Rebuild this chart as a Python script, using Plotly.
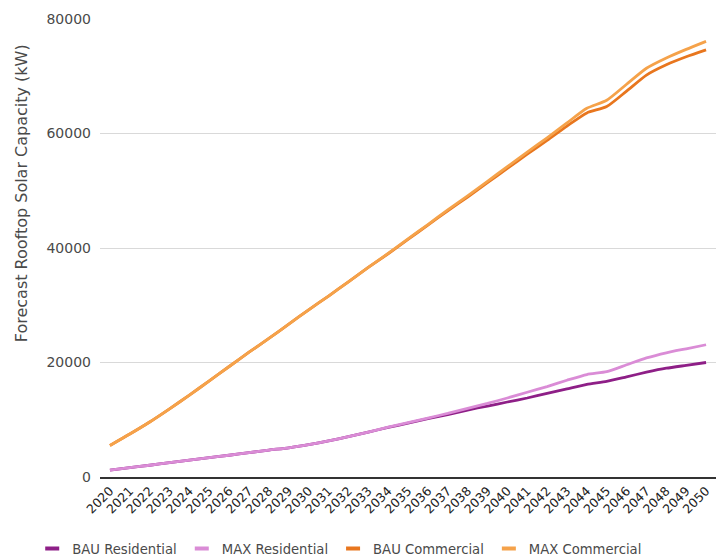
import plotly.graph_objects as go

years = [str(y) for y in range(2020, 2051)]

bau_residential = [1200, 1650, 2050, 2500, 2950, 3400, 3800, 4250, 4700, 5100,
                   5650, 6300, 7050, 7850, 8650, 9400, 10200, 10900, 11700, 12400,
                   13100, 13800, 14600, 15400, 16200, 16700, 17500, 18300, 19000, 19500,
                   20000]
max_residential = [1200, 1650, 2050, 2500, 2950, 3400, 3800, 4250, 4700, 5100,
                   5650, 6300, 7050, 7850, 8700, 9500, 10300, 11100, 12000, 12850,
                   13800, 14800, 15800, 16900, 17900, 18400, 19600, 20800, 21700, 22400,
                   23100]
bau_commercial = [5500, 7500, 9600, 11900, 14300, 16800, 19300, 21800, 24200, 26700,
                  29200, 31600, 34100, 36600, 39000, 41500, 44000, 46500, 48900, 51400,
                  53900, 56400, 58800, 61300, 63600, 64700, 67400, 70200, 72000, 73400,
                  74600]
max_commercial = [5500, 7500, 9600, 11900, 14300, 16800, 19300, 21800, 24200, 26700,
                  29200, 31600, 34100, 36600, 39050, 41600, 44100, 46650, 49100, 51650,
                  54200, 56750, 59250, 61850, 64400, 65800, 68600, 71400, 73200, 74700,
                  76100]

series_names = ["BAU Residential", "MAX Residential", "BAU Commercial", "MAX Commercial"]
series_values = [bau_residential, max_residential, bau_commercial, max_commercial]
colors = ["#8E1F87", "#DA8CD6", "#E8761E", "#F5A24A"]
y_ticks = [0, 20000, 40000, 60000, 80000]
y_title = "Forecast Rooftop Solar Capacity (kW)"

FONT = "DejaVu Sans"
TXT = "#4a4a4a"

fig = go.Figure()
for name, vals, col in zip(series_names, series_values, colors):
    fig.add_trace(go.Scatter(
        x=years, y=vals, mode="lines", name=name, legendgroup=name,
        showlegend=False, line=dict(color=col, width=2.8, shape="spline", smoothing=0.6),
    ))
for name, col in zip(series_names, colors):
    fig.add_trace(go.Scatter(
        x=[None], y=[None], mode="markers", name=name, legendgroup=name,
        marker=dict(symbol="line-ew", size=10, color=col, line=dict(color=col, width=4)),
    ))

fig.add_annotation(
    text=y_title, textangle=-90, xref="paper", yref="paper",
    x=-0.128, y=0.62, xanchor="center", yanchor="middle", showarrow=False,
    font=dict(size=16, color=TXT, family=FONT),
)

fig.update_layout(
    template="none",
    width=716, height=558,
    margin=dict(l=100, r=0, t=19, b=81, autoexpand=False),
    paper_bgcolor="white", plot_bgcolor="white",
    font=dict(family=FONT, color=TXT, size=13),
    showlegend=True,
    legend=dict(orientation="h", xref="container", x=0.045, xanchor="left",
                yref="paper", y=-0.157, yanchor="middle",
                font=dict(size=13.2, color=TXT),
                itemwidth=30, tracegroupgap=0, bgcolor="rgba(0,0,0,0)"),
    xaxis=dict(
        type="category", tickangle=-45, tickfont=dict(size=12.5, color="#222"),
        showgrid=False, showline=True, linecolor="#333", linewidth=1.5,
        ticks="", range=[-0.5, 30.5], automargin=False, zeroline=False,
    ),
    yaxis=dict(
        range=[0, 80000], tickvals=y_ticks, ticktext=[str(v) for v in y_ticks],
        showgrid=True, gridcolor="#d9d9d9", gridwidth=1, zeroline=False,
        showline=False, ticks="", ticklabelstandoff=8, automargin=False,
        tickfont=dict(size=14, color=TXT),
    ),
)

fig.write_html("out.html", config={"displayModeBar": False},
               post_script="document.body.style.margin='0';")
